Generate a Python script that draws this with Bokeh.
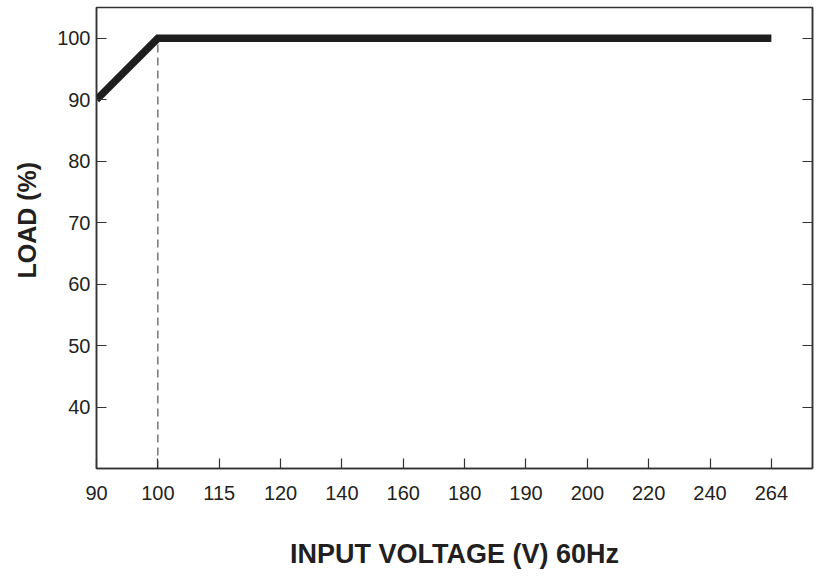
from bokeh.plotting import figure
from bokeh.models import Range1d, FixedTicker, LinearAxis, Title
from bokeh.embed import file_html
from bokeh.resources import INLINE

# Data
voltage_ticks = [90, 100, 115, 120, 140, 160, 180, 190, 200, 220, 240, 264]
curve_voltage = [90, 100, 264]
curve_load = [90, 100, 100]
knee_voltage = 100
knee_load = [30, 100]
y_ticks = [40, 50, 60, 70, 80, 90, 100]

pos = {v: i for i, v in enumerate(voltage_ticks)}
curve_x = [pos[v] for v in curve_voltage]

TEXT = "#231f20"
FONT = "Liberation Sans"
AX = "#333333"

p = figure(width=819, height=576, output_backend="svg", toolbar_location=None,
           x_range=Range1d(0, 11.67), y_range=Range1d(30, 105),
           min_border_left=96, min_border_right=7, min_border_top=7, min_border_bottom=108)
p.grid.visible = False
p.outline_line_color = AX
p.outline_line_width = 1.5
p.background_fill_color = "white"
p.border_fill_color = "white"

# knee dashed line
p.line([pos[knee_voltage]] * 2, knee_load, line_color="#555555", line_width=1.2, line_dash="8 5")
# main curve
p.line(curve_x, curve_load, line_color="#1e1e1e", line_width=7.5, line_join="miter", line_cap="butt")

xa = p.xaxis[0]
xa.ticker = FixedTicker(ticks=list(range(len(voltage_ticks))))
xa.major_label_overrides = {i: str(v) for i, v in enumerate(voltage_ticks)}
xa.axis_label = "INPUT VOLTAGE (V) 60Hz"

ya = p.yaxis[0]
ya.ticker = FixedTicker(ticks=y_ticks)

for ax in (xa, ya):
    ax.major_tick_in = 10
    ax.major_tick_out = 0
    ax.minor_tick_line_color = None
    ax.axis_line_color = AX
    ax.axis_line_width = 1.5
    ax.major_tick_line_color = AX
    ax.major_tick_line_width = 1.2
    ax.major_label_text_font = FONT
    ax.major_label_text_font_size = "20px"
    ax.major_label_text_color = TEXT
    ax.axis_label_text_font = FONT
    ax.axis_label_text_font_size = "27px"
    ax.axis_label_text_font_style = "bold"
    ax.axis_label_text_color = TEXT

xa.major_label_standoff = 17
xa.axis_label_standoff = 36
ya.major_label_standoff = 6

ra = LinearAxis(ticker=FixedTicker(ticks=y_ticks))
ra.major_tick_in = 10
ra.major_tick_out = 0
ra.minor_tick_line_color = None
ra.axis_line_color = AX
ra.axis_line_width = 1.5
ra.major_tick_line_color = AX
ra.major_tick_line_width = 1.2
ra.major_label_text_font_size = "1px"
ra.major_label_text_color = None
ra.major_label_standoff = 0
p.add_layout(ra, "right")

ytitle = Title(text="LOAD (%)", align="left", vertical_align="top", offset=190, standoff=24,
               text_font=FONT, text_font_size="25px", text_font_style="bold", text_color=TEXT)
p.add_layout(ytitle, "left")

open("out.html", "w").write(file_html(p, INLINE))
